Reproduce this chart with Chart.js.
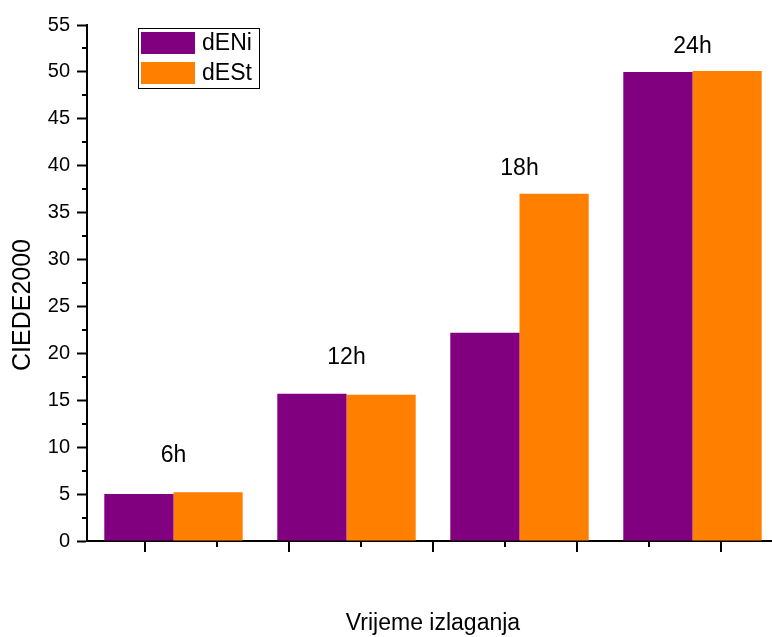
<!DOCTYPE html>
<html>
<head>
<meta charset="utf-8">
<script src="https://cdn.jsdelivr.net/npm/chart.js@4"></script>
<style>
  html, body { margin: 0; padding: 0; background: #fff; overflow: hidden; width: 772px; height: 637px; }
  canvas { display: block; }
</style>
</head>
<body>
<canvas id="chart" width="800" height="637"></canvas>
<script>
const categories = ['6h', '12h', '18h', '24h'];
const dENi = [5.0, 15.7, 22.2, 50.0];
const dESt = [5.2, 15.6, 37.0, 50.1];
const seriesNames = ['dENi', 'dESt'];
const seriesColors = ['#800080', '#FF8000'];
const yMinorTicks = [2.5, 7.5, 12.5, 17.5, 22.5, 27.5, 32.5, 37.5, 42.5, 47.5, 52.5];
// Origin put its x ticks off the group centres (in category index units)
const xMajorTicks = [-1/6, 2/3, 1.5, 7/3, 19/6];
const xMinorTicks = [0.25, 13/12, 23/12, 2.75];
// where the "6h".. labels sit, in y units
const hourLabelY = [9.2, 19.6, 39.8, 52.8];

const FONT = '"Liberation Sans", Arial, sans-serif';

const originDecor = {
  id: 'originDecor',
  afterDraw(chart) {
    const ctx = chart.ctx;
    const x = chart.scales.x;
    const y = chart.scales.y;
    const area = chart.chartArea;
    ctx.save();
    ctx.strokeStyle = '#000';
    ctx.lineWidth = 2;

    // minor y ticks
    yMinorTicks.forEach(v => {
      const py = Math.round(y.getPixelForValue(v));
      ctx.beginPath();
      ctx.moveTo(area.left - 5, py);
      ctx.lineTo(area.left, py);
      ctx.stroke();
    });
    // x ticks
    xMajorTicks.forEach(v => {
      const px = Math.round(x.getPixelForValue(v));
      ctx.beginPath();
      ctx.moveTo(px, area.bottom);
      ctx.lineTo(px, area.bottom + 11);
      ctx.stroke();
    });
    xMinorTicks.forEach(v => {
      const px = Math.round(x.getPixelForValue(v));
      ctx.beginPath();
      ctx.moveTo(px, area.bottom);
      ctx.lineTo(px, area.bottom + 6);
      ctx.stroke();
    });

    // hour labels above groups
    ctx.fillStyle = '#000';
    ctx.font = '23px ' + FONT;
    ctx.textAlign = 'center';
    ctx.textBaseline = 'middle';
    categories.forEach((c, i) => {
      ctx.fillText(c, x.getPixelForValue(i), y.getPixelForValue(hourLabelY[i]) + 1);
    });

    // y title
    ctx.save();
    ctx.translate(23, (area.top + area.bottom) / 2 + 22);
    ctx.rotate(-Math.PI / 2);
    ctx.font = '25px ' + FONT;
    ctx.fillText('CIEDE2000', 0, 0);
    ctx.restore();

    // legend box
    const lx = 138, ly = 28, lw = 121, lh = 60;
    ctx.lineWidth = 1;
    ctx.strokeRect(lx + 0.5, ly + 0.5, lw, lh);
    ctx.font = '23px ' + FONT;
    ctx.textAlign = 'left';
    chart.data.datasets.forEach((ds, i) => {
      const top = ly + 4 + i * 30;
      ctx.fillStyle = ds.backgroundColor;
      ctx.fillRect(lx + 3, top, 54, 22);
      ctx.fillStyle = '#000';
      ctx.fillText(ds.label, lx + 64, top + 12);
    });
    ctx.restore();
  }
};

new Chart(document.getElementById('chart'), {
  type: 'bar',
  data: {
    labels: categories,
    datasets: [
      { label: seriesNames[0], data: dENi, backgroundColor: seriesColors[0], borderWidth: 0 },
      { label: seriesNames[1], data: dESt, backgroundColor: seriesColors[1], borderWidth: 0 }
    ]
  },
  options: {
    responsive: false,
    animation: false,
    categoryPercentage: 0.8,
    barPercentage: 1.0,
    layout: { padding: { top: 25, right: 21, left: 0, bottom: 0 } },
    plugins: {
      legend: { display: false },
      tooltip: { enabled: false }
    },
    scales: {
      x: {
        type: 'category',
        offset: true,
        grid: { display: false },
        border: { display: true, color: '#000', width: 2 },
        ticks: { display: false },
        title: {
          display: true,
          text: 'Vrijeme izlaganja',
          color: '#000',
          font: { family: FONT, size: 23 },
          padding: { top: 0, bottom: 0 }
        },
        afterFit(scale) { scale.height = 96; }
      },
      y: {
        min: 0,
        max: 55,
        ticks: {
          stepSize: 5,
          color: '#000',
          padding: 7,
          font: { family: FONT, size: 20 }
        },
        grid: {
          drawOnChartArea: false,
          tickLength: 10,
          tickWidth: 2,
          tickColor: '#000'
        },
        border: { display: true, color: '#000', width: 2 },
        afterFit(scale) { scale.width = 87; }
      }
    }
  },
  plugins: [originDecor]
});
</script>
</body>
</html>
